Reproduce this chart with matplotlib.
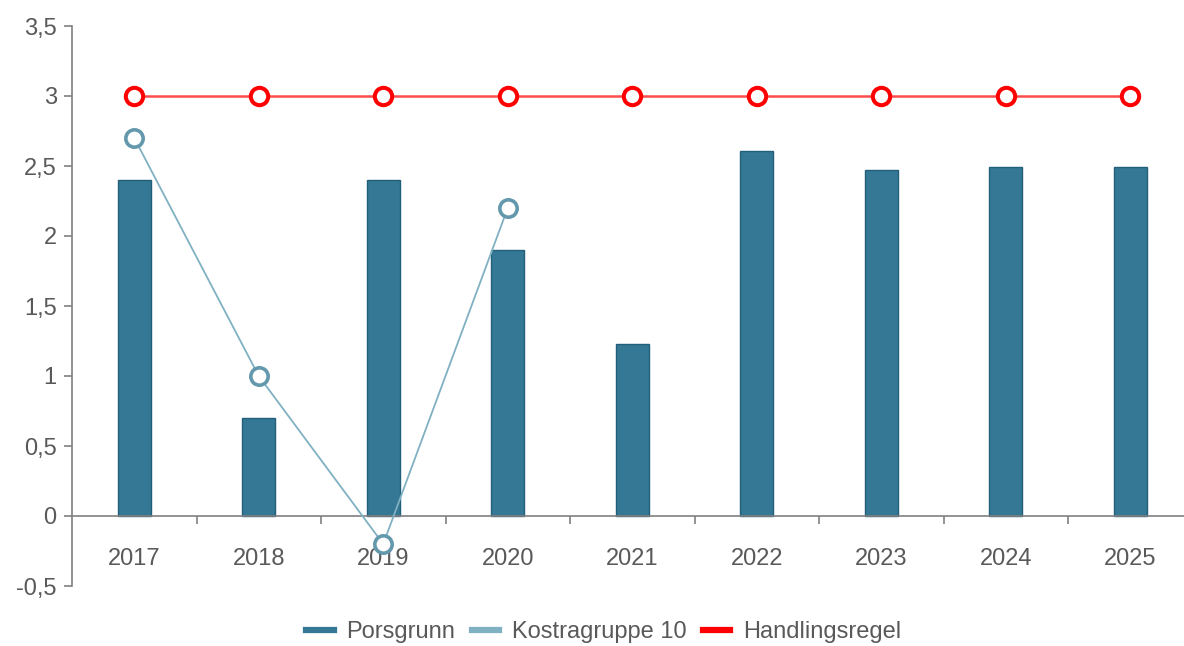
import matplotlib.pyplot as plt
import numpy as np

aar = ['2017', '2018', '2019', '2020', '2021', '2022', '2023', '2024', '2025']
porsgrunn = [2.4, 0.7, 2.4, 1.9, 1.23, 2.61, 2.47, 2.49, 2.49]
kostra = [2.7, 1.0, -0.2, 2.2]
handlingsregel = [3, 3, 3, 3, 3, 3, 3, 3, 3]
y_ticks = [-0.5, 0, 0.5, 1, 1.5, 2, 2.5, 3, 3.5]
y_labels = ['-0,5', '0', '0,5', '1', '1,5', '2', '2,5', '3', '3,5']

plt.rcParams['font.family'] = ['Liberation Sans', 'DejaVu Sans']
grey = '#595959'

fig = plt.figure(figsize=(11.84, 6.46), dpi=100)
ax = fig.add_axes([72 / 1184, 60 / 646, 1 - 72 / 1184, 560 / 646])

x = np.arange(len(aar))
ax.bar(x, porsgrunn, width=0.265, color='#347895', edgecolor='#215f7a',
       linewidth=1, label='Porsgrunn', zorder=2)
ax.plot(x[:len(kostra)], kostra, color='#80b1c2', linewidth=1.3,
        marker='o', markersize=12.5, markerfacecolor='white',
        markeredgecolor='#6499ad', markeredgewidth=2.6,
        label='Kostragruppe 10', zorder=3)
ax.plot(x, handlingsregel, color='#ff4d4d', linewidth=1.8,
        marker='o', markersize=12.5, markerfacecolor='white',
        markeredgecolor='#ff0000', markeredgewidth=2.9,
        label='Handlingsregel', zorder=4)

ax.set_ylim(-0.5, 3.5)
ax.set_xlim(-0.5, (1184 - 72) / 124.5 - 0.5)
ax.set_yticks(y_ticks)
ax.set_yticklabels(y_labels)

ax.spines['top'].set_visible(False)
ax.spines['right'].set_visible(False)
ax.spines['left'].set_color('#808080')
ax.spines['left'].set_linewidth(1.2)
ax.spines['bottom'].set_position(('data', 0))
ax.spines['bottom'].set_color('#808080')
ax.spines['bottom'].set_linewidth(1.2)

ax.set_xticks(x)
ax.set_xticklabels(aar)
ax.set_xticks(np.arange(0.5, 8.5, 1), minor=True)
ax.tick_params(axis='x', which='major', length=0, pad=23, labelsize=17,
               labelcolor=grey)
ax.tick_params(axis='x', which='minor', length=6, width=1.2, color='#808080')
ax.tick_params(axis='y', length=6, width=1.2, color='#808080', labelsize=17,
               labelcolor=grey, pad=5)

handles = [plt.Line2D([], [], color='#347895', linewidth=4.5),
           plt.Line2D([], [], color='#80b1c2', linewidth=4.5),
           plt.Line2D([], [], color='#ff0000', linewidth=4.5)]
fig.legend(handles, ['Porsgrunn', 'Kostragruppe 10', 'Handlingsregel'],
           loc='center', bbox_to_anchor=(604 / 1184, 1 - 632 / 646), ncol=3,
           frameon=False, fontsize=17, labelcolor=grey, handlelength=1.15,
           handletextpad=0.55, columnspacing=0.7)

plt.savefig('out.png', dpi=100)
